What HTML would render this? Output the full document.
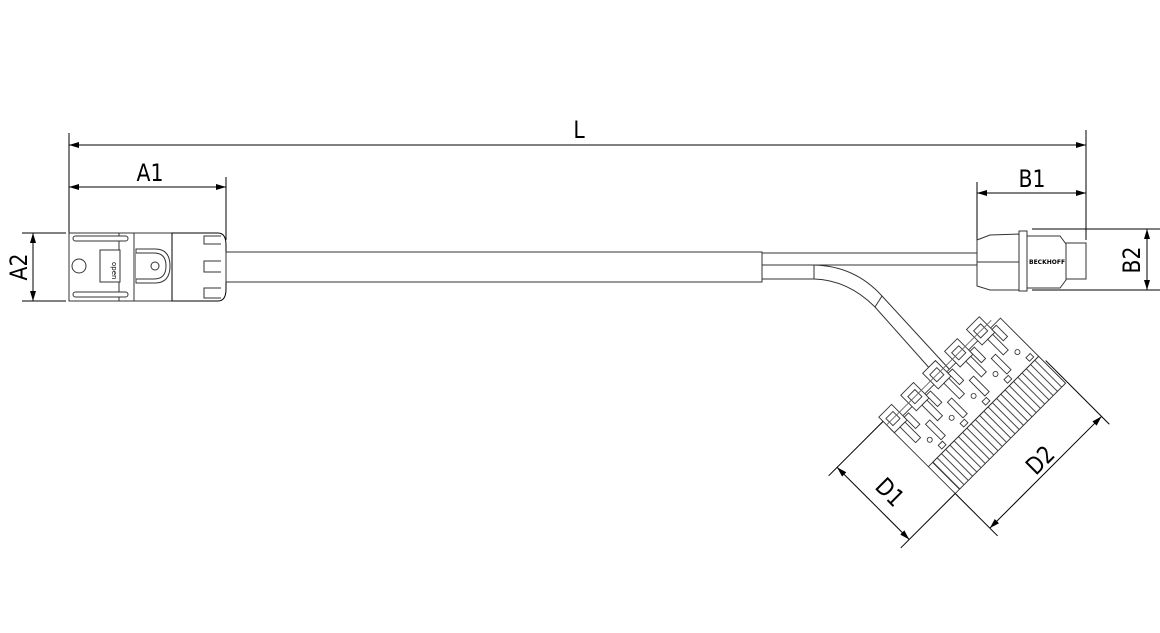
<!DOCTYPE html>
<html><head><meta charset="utf-8"><style>html,body{margin:0;padding:0;background:#fff}svg{display:block}text{font-family:"DejaVu Sans","Liberation Sans",sans-serif;fill:#000}</style></head>
<body>
<svg width="1160" height="633" viewBox="0 0 1160 633" xmlns="http://www.w3.org/2000/svg">
<defs>
<marker id="ar" viewBox="0 0 10 6" refX="10" refY="3" markerWidth="10" markerHeight="6" orient="auto-start-reverse" markerUnits="userSpaceOnUse"><path d="M0,0 L10,3 L0,6 Z" fill="#000"/></marker>
<pattern id="rib" width="6" height="10" patternUnits="userSpaceOnUse"><rect width="6" height="10" fill="#fff"/><line x1="0.5" y1="0" x2="0.5" y2="10" stroke="#333" stroke-width="0.9"/></pattern>
</defs>
<g stroke="#000" stroke-width="1" fill="none">
<line x1="69" y1="133" x2="69" y2="300"/>
<line x1="1086" y1="130" x2="1086" y2="240"/>
<line x1="69" y1="145" x2="1086" y2="145" marker-start="url(#ar)" marker-end="url(#ar)"/>
<line x1="226" y1="177" x2="226" y2="240"/>
<line x1="69" y1="187" x2="226" y2="187" marker-start="url(#ar)" marker-end="url(#ar)"/>
<line x1="22" y1="233" x2="66" y2="233"/>
<line x1="22" y1="301" x2="66" y2="301"/>
<line x1="33" y1="233" x2="33" y2="301" marker-start="url(#ar)" marker-end="url(#ar)"/>
<line x1="977" y1="182" x2="977" y2="268"/>
<line x1="977" y1="193" x2="1086" y2="193" marker-start="url(#ar)" marker-end="url(#ar)"/>
<line x1="1032" y1="229" x2="1160" y2="229"/>
<line x1="1032" y1="290" x2="1160" y2="290"/>
<line x1="1147" y1="229" x2="1147" y2="290" marker-start="url(#ar)" marker-end="url(#ar)"/>
</g>
<g stroke="#333" stroke-width="1" fill="#fff">
<rect x="69" y="233" width="65" height="68"/>
<line x1="119" y1="233" x2="119" y2="301"/>
<rect x="73" y="236" width="55" height="5" rx="2.5"/>
<rect x="73" y="292" width="55" height="5" rx="2.5"/>
<circle cx="79" cy="266" r="7"/>
<rect x="100" y="250" width="20" height="32"/>
<text x="112" y="262" font-size="7" transform="rotate(90 112 262)" stroke="none" fill="#333">open</text>
<rect x="134" y="233" width="38" height="68"/>
<path d="M136,249 L155,249 Q170,249 170,266 Q170,283 155,283 L136,283 Z"/>
<path d="M136,253 L154,253 Q166,253 166,266 Q166,279 154,279 L136,279"/>
<circle cx="155" cy="266" r="4"/>
<path d="M172,233 L218,233 Q226,233 226,245 L226,289 Q226,301 218,301 L172,301 Z" stroke="#000"/>
<path d="M221,236 L204,236 L204,244 L221,244"/>
<path d="M221,261 L204,261 L204,272 L221,272"/>
<path d="M221,288 L204,288 L204,298 L221,298"/>
<rect x="226" y="252" width="536" height="30" fill="#fff"/>
<line x1="762" y1="253" x2="977" y2="253"/>
<line x1="762" y1="265" x2="977" y2="265"/>
<path d="M762,265 L814,265 Q855,266 882,296 L950,370" fill="none"/>
<path d="M762,279 L814,279 Q848,280 875,307 L940,380" fill="none"/>
<line x1="814" y1="265" x2="814" y2="279"/>
<line x1="882" y1="296" x2="875" y2="307"/>
<path d="M977,240 L990,235 L1020,234 L1020,290 L990,290 L977,286 Z"/>
<line x1="977" y1="262" x2="1020" y2="262"/>
<rect x="1019" y="231" width="8" height="60"/>
<path d="M1027,236 L1060,236 L1066,244 L1066,280 L1060,288 L1027,288 Z"/>
<rect x="1066" y="243" width="20" height="36"/>
<text x="1029" y="264" font-size="6" stroke="none" fill="#333" font-weight="bold">BECKHOFF</text>
</g>
<g transform="translate(975,403) rotate(-45)" stroke="#333" stroke-width="0.9" fill="#fff">
<rect x="-78" y="-42" width="156" height="92"/>
<rect x="-72" y="12" width="150" height="38" fill="url(#rib)"/>
<line x1="-78" y1="12" x2="78" y2="12"/>
<g>
<rect x="-78" y="-58" width="18" height="22"/><rect x="-74" y="-52" width="10" height="10"/><rect x="-70" y="-36" width="7" height="22"/><rect x="-60" y="-40" width="6" height="16"/><circle cx="-58" cy="-6" r="2.5"/><rect x="-56" y="4" width="6" height="5"/><rect x="-50" y="-20" width="6" height="22"/>
<rect x="-47" y="-58" width="18" height="22"/><rect x="-43" y="-52" width="10" height="10"/><rect x="-39" y="-36" width="7" height="22"/><rect x="-29" y="-40" width="6" height="16"/><circle cx="-27" cy="-6" r="2.5"/><rect x="-25" y="4" width="6" height="5"/><rect x="-19" y="-20" width="6" height="22"/>
<rect x="-16" y="-58" width="18" height="22"/><rect x="-12" y="-52" width="10" height="10"/><rect x="-8" y="-36" width="7" height="22"/><rect x="2" y="-40" width="6" height="16"/><circle cx="4" cy="-6" r="2.5"/><rect x="6" y="4" width="6" height="5"/><rect x="12" y="-20" width="6" height="22"/>
<rect x="15" y="-58" width="18" height="22"/><rect x="19" y="-52" width="10" height="10"/><rect x="23" y="-36" width="7" height="22"/><rect x="33" y="-40" width="6" height="16"/><circle cx="35" cy="-6" r="2.5"/><rect x="37" y="4" width="6" height="5"/><rect x="43" y="-20" width="6" height="22"/>
<rect x="46" y="-58" width="18" height="22"/><rect x="50" y="-52" width="10" height="10"/><rect x="54" y="-36" width="7" height="22"/><rect x="64" y="-40" width="6" height="16"/><circle cx="66" cy="-6" r="2.5"/><rect x="68" y="4" width="6" height="5"/>
<line x1="-78" y1="-47" x2="70" y2="-47" stroke="#666"/>
</g>
</g>
<g transform="translate(975,403) rotate(-45)" stroke="#000" stroke-width="1" fill="none">
<line x1="-78" y1="-52" x2="-155" y2="-52"/>
<line x1="-78" y1="50" x2="-155" y2="50"/>
<line x1="-143" y1="-52" x2="-143" y2="50" marker-start="url(#ar)" marker-end="url(#ar)"/>
<line x1="-78" y1="50" x2="-78" y2="110"/>
<line x1="80" y1="20" x2="80" y2="110"/>
<line x1="-78" y1="99" x2="80" y2="99" marker-start="url(#ar)" marker-end="url(#ar)"/>
</g>
<g font-size="24">
<text transform="translate(579,138) scale(0.85,1)" text-anchor="middle">L</text>
<text transform="translate(150,181) scale(0.85,1)" text-anchor="middle">A1</text>
<text transform="translate(1032,187) scale(0.85,1)" text-anchor="middle">B1</text>
<text transform="translate(27,267) rotate(-90) scale(0.85,1)" text-anchor="middle">A2</text>
<text transform="translate(1140,260) rotate(-90) scale(0.85,1)" text-anchor="middle">B2</text>
<text transform="translate(884,498) rotate(45) scale(0.85,1)" text-anchor="middle">D1</text>
<text transform="translate(1046,466) rotate(-45) scale(0.85,1)" text-anchor="middle">D2</text>
</g>
</svg>
</body></html>
